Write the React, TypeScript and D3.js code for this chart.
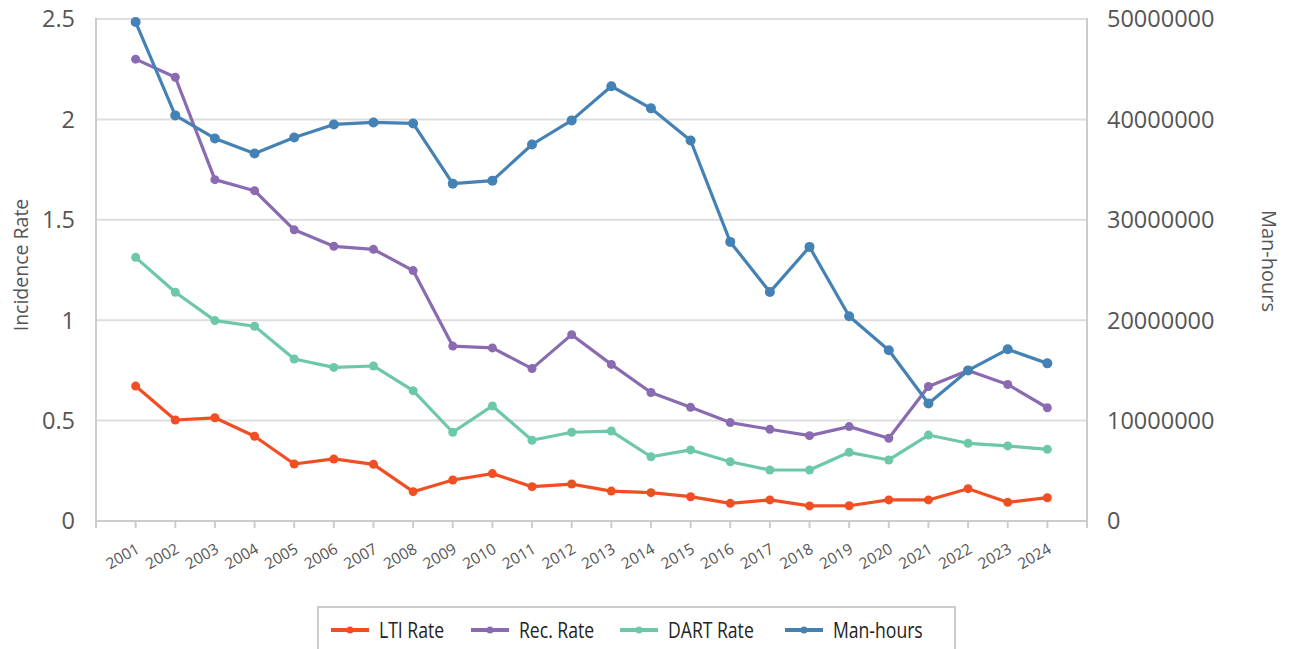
import React from "react";
import * as d3 from "d3";

const years = ["2001","2002","2003","2004","2005","2006","2007","2008","2009","2010","2011","2012","2013","2014","2015","2016","2017","2018","2019","2020","2021","2022","2023","2024"];
const ltiRate = [0.672,0.503,0.514,0.422,0.284,0.309,0.282,0.146,0.204,0.236,0.171,0.184,0.149,0.141,0.121,0.088,0.105,0.075,0.076,0.105,0.105,0.161,0.093,0.116];
const recRate = [2.30,2.21,1.70,1.645,1.45,1.368,1.353,1.247,0.871,0.862,0.759,0.928,0.78,0.64,0.566,0.49,0.457,0.425,0.47,0.412,0.67,0.75,0.68,0.564];
const dartRate = [1.313,1.139,0.998,0.970,0.807,0.765,0.772,0.649,0.442,0.573,0.402,0.442,0.448,0.320,0.354,0.295,0.254,0.254,0.342,0.304,0.428,0.387,0.374,0.357];
const manHours = [49.7e6,40.4e6,38.1e6,36.6e6,38.2e6,39.5e6,39.7e6,39.6e6,33.6e6,33.9e6,37.5e6,39.9e6,43.3e6,41.1e6,37.9e6,27.8e6,22.8e6,27.3e6,20.4e6,17.0e6,11.7e6,15.0e6,17.1e6,15.7e6];
const leftTicks = [0,0.5,1,1.5,2,2.5];
const rightTicks = [0,10000000,20000000,30000000,40000000,50000000];

const seriesNames = ["LTI Rate","Rec. Rate","DART Rate","Man-hours"];
const colors = ["#f24e23","#8a6bb1","#6cc8a6","#4482b6"];

export default function App() {
  const W = 1293, H = 649;
  const left = 96, right = 1087, top = 19, bottom = 521;
  const x = d3.scalePoint<string>().domain(years).range([left, right]).padding(1);
  const yL = d3.scaleLinear().domain([0, 2.5]).range([bottom, top]);
  const yR = d3.scaleLinear().domain([0, 50000000]).range([bottom, top]);
  const font = "'Open Sans', sans-serif";

  const series = [
    { name: seriesNames[0], values: ltiRate, y: yL, color: colors[0], r: 4.5 },
    { name: seriesNames[1], values: recRate, y: yL, color: colors[1], r: 4.5 },
    { name: seriesNames[2], values: dartRate, y: yL, color: colors[2], r: 4.5 },
    { name: seriesNames[3], values: manHours, y: yR, color: colors[3], r: 5 },
  ];

  const lineGen = (vals: number[], ys: d3.ScaleLinear<number, number>) =>
    d3.line<number>().x((_, i) => x(years[i]) as number).y((d) => ys(d))(vals) || "";

  const legendX = [331, 471, 620, 785];

  return (
    <svg width={W} height={H} style={{ position: "absolute", left: 0, top: 0, background: "#fff" }} fontFamily={font}>
      {leftTicks.slice(1).map((t) => (
        <line key={t} x1={left} x2={right} y1={yL(t)} y2={yL(t)} stroke="#dddddd" strokeWidth={2} />
      ))}
      <line x1={left} x2={right} y1={bottom} y2={bottom} stroke="#cccccc" strokeWidth={2} />
      <line x1={left} x2={left} y1={top - 1} y2={bottom + 7} stroke="#cccccc" strokeWidth={2} />
      <line x1={right} x2={right} y1={top - 1} y2={bottom + 7} stroke="#cccccc" strokeWidth={2} />
      {years.map((yr) => (
        <line key={yr} x1={x(yr)} x2={x(yr)} y1={bottom} y2={bottom + 7} stroke="#cccccc" strokeWidth={2} />
      ))}
      {leftTicks.map((t) => (
        <text key={t} x={75} y={yL(t)} dy="0.36em" textAnchor="end" fontSize={23.5} fill="#555">{t}</text>
      ))}
      {rightTicks.map((t) => (
        <text key={t} x={1107} y={yR(t)} dy="0.36em" textAnchor="start" fontSize={23.5} fill="#555">{t}</text>
      ))}
      {years.map((yr) => (
        <text key={yr} transform={`translate(${(x(yr) as number) + 5},552) rotate(-30)`} textAnchor="end" fontSize={15.5} fill="#555">{yr}</text>
      ))}
      <text transform={`translate(28,265) rotate(-90)`} textAnchor="middle" fontSize={19.5} fill="#555">Incidence Rate</text>
      <text transform={`translate(1262,261) rotate(90)`} textAnchor="middle" fontSize={20} fill="#555">Man-hours</text>

      {series.map((s) => (
        <g key={s.name}>
          <path d={lineGen(s.values, s.y)} fill="none" stroke={s.color} strokeWidth={3.2} strokeLinejoin="round" />
          {s.values.map((v, i) => (
            <circle key={i} cx={x(years[i])} cy={s.y(v)} r={s.r} fill={s.color} />
          ))}
        </g>
      ))}

      <rect x={318} y={607} width={637} height={50} fill="#fff" stroke="#cccccc" strokeWidth={2} />
      {series.map((s, i) => (
        <g key={s.name} transform={`translate(${legendX[i]},630)`}>
          <line x1={0} x2={38} y1={0} y2={0} stroke={s.color} strokeWidth={4} />
          <circle cx={19} cy={0} r={3.5} fill={s.color} />
          <text transform="translate(48,0) scale(0.8,1)" x={0} y={0} dy="0.35em" fontSize={22} fill="#222">{s.name}</text>
        </g>
      ))}
    </svg>
  );
}
